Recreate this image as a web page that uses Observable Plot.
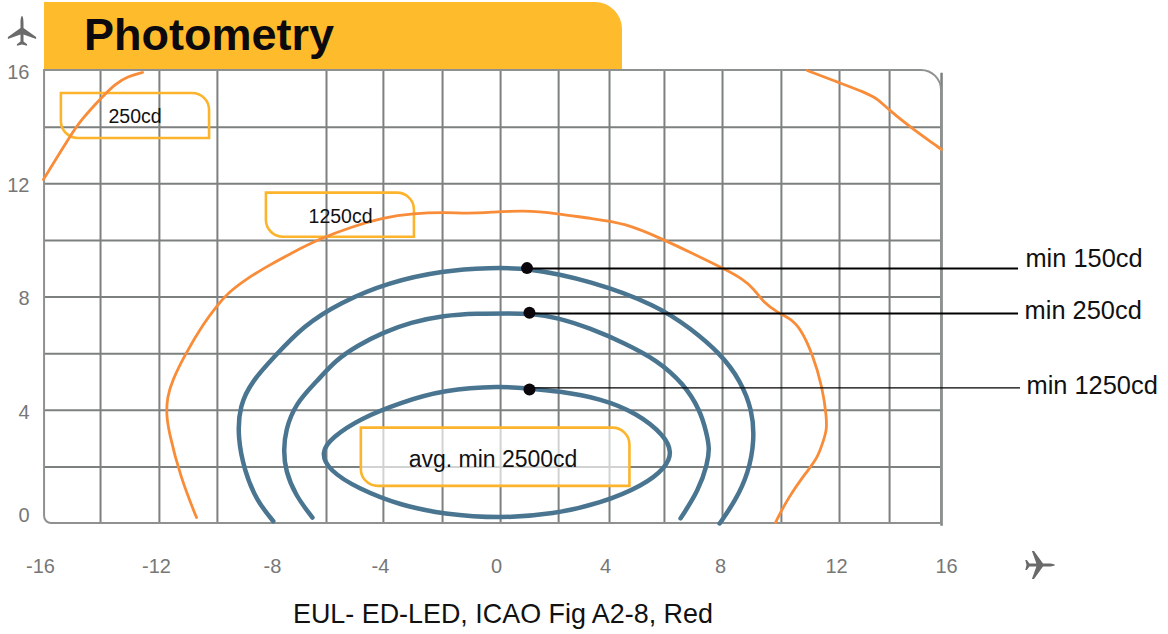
<!DOCTYPE html>
<html>
<head>
<meta charset="utf-8">
<script src="https://cdn.jsdelivr.net/npm/d3@7"></script>
<script src="https://cdn.jsdelivr.net/npm/@observablehq/plot@0.6"></script>
<style>
html,body{margin:0;padding:0;background:#fff;font-family:"Liberation Sans",Arial,sans-serif;}
#page{position:relative;width:1168px;height:634px;overflow:hidden;}
#band{position:absolute;left:44px;top:2px;width:578px;height:67px;background:#FEBB2C;border-top-right-radius:27px;}
#title{position:absolute;left:84px;top:9px;font-size:45px;font-weight:bold;color:#0c0a0e;line-height:52px;}
#chart{position:absolute;left:0;top:0;}
#caption{position:absolute;left:293px;top:598px;font-size:26.9px;line-height:32px;color:#111;white-space:nowrap;}
.plane{position:absolute;width:30px;height:30px;fill:#6a6a6a;}
</style>
</head>
<body>
<div id="page">
  <div id="band"></div>
  <div id="title">Photometry</div>
  <div id="chart"></div>
  <svg class="plane" style="left:7px;top:16px" viewBox="0 0 100 100"><path d="M50 0C53 0 55 10 55 24L55 40L97 70L97 77L55 62L55 85L67 94L67 99L50 95L33 99L33 94L45 85L45 62L3 77L3 70L45 40L45 24C45 10 47 0 50 0Z"/></svg>
  <svg class="plane" style="left:1025px;top:550px;transform:rotate(90deg)" viewBox="0 0 100 100"><path d="M50 0C53 0 55 10 55 24L55 40L97 70L97 77L55 62L55 85L67 94L67 99L50 95L33 99L33 94L45 85L45 62L3 77L3 70L45 40L45 24C45 10 47 0 50 0Z"/></svg>
  <div id="caption">EUL- ED-LED, ICAO Fig A2-8, Red</div>
</div>
<script>
const xTicks = [-16,-12,-8,-4,0,4,8,12,16];
const yTicks = [4,8,12,16];
const gridX = [-13.93,-11.90,-9.90,-6,-3.90,-1.86,0.15,2.28,4.14,6.05,8.07,10.10,12.11,13.93];
const gridY = [2,4,6,8,10,12,14];
const frameX = [-15.86,15.82];

const orange1250 = [[-10.62,0.21],[-11.17,1.62],[-11.59,3.29],[-11.66,3.89],[-11.63,4.45],[-11.46,5.05],[-11,6],[-10.38,7.06],[-9.91,7.70],[-9.52,8.16],[-8.87,8.65],[-8.31,9.01],[-7.33,9.54],[-6.22,10.07],[-5.11,10.46],[-3.90,10.81],[-2.86,10.95],[-1.83,10.99],[-1,10.95],[-0.21,10.99],[0.99,11.06],[2.24,10.95],[3.45,10.77],[4.63,10.63],[6.02,10.03],[6.96,9.57],[8.10,9.01],[8.79,8.62],[9.14,8.30],[9.48,7.81],[9.97,7.45],[10.41,7.24],[10.76,6.89],[11.17,6],[11.52,4.80],[11.66,3.74],[11.66,3.29],[11.55,2.93],[11.34,2.30],[11,1.87],[10.31,0.88],[9.90,0.04]];
const orangeTopLeft = [[-15.90,12.15],[-14.97,13.70],[-14.62,14.23],[-13.93,15.01],[-13.41,15.54],[-13,15.79],[-12.48,15.93]];
const orangeTopRight = [[10.99,16],[12.07,15.58],[13.05,15.22],[13.48,15.01],[13.89,14.62],[14.75,13.95],[15.82,13.21]];
const blue150 = [[-7.97,0.08],[-8.55,0.81],[-8.97,1.87],[-9.20,3.04],[-9.14,4.17],[-8.69,5.05],[-7.96,5.86],[-6.85,6.99],[-5.48,7.81],[-3.76,8.51],[-1.83,8.94],[-0.21,9.03],[1.14,9.03],[3.45,8.58],[5.81,7.70],[6.96,6.89],[8,6],[8.69,5.05],[9.10,3.99],[9.17,2.93],[8.97,1.80],[8.52,0.81],[7.97,0]];
const blue250 = [[-6.52,0.21],[-7.15,0.99],[-7.52,1.87],[-7.59,2.58],[-7.52,3.29],[-7.15,4.24],[-6.33,5.05],[-5.67,5.76],[-4.85,6.29],[-3.90,6.75],[-2.97,7.10],[-1.83,7.35],[-0.66,7.42],[0.51,7.42],[1.21,7.42],[2.24,7.28],[3.45,6.89],[4.63,6.39],[5.81,5.76],[6.71,4.95],[7.30,3.99],[7.51,3.21],[7.62,2.68],[7.55,2.12],[7.24,1.17],[6.61,0.18]];
const blue1250 = [[0.15,4.86],[-1.83,4.72],[-3.31,4.27],[-4.74,3.71],[-5.80,3.04],[-6.22,2.51],[-5.90,1.87],[-4.85,1.24],[-3.31,0.64],[-1.83,0.33],[0.15,0.18],[2.09,0.33],[3.82,0.71],[5.32,1.34],[6.10,1.98],[6.32,2.51],[6.05,3.11],[5.11,3.89],[3.82,4.42],[2.24,4.68],[1.21,4.76]];

const boxNames = ["250cd","1250cd","avg. min 2500cd"];
const boxX1 = [-15.28,-8.21,-4.71];
const boxX2 = [-10.17,-2.83,4.85];
const boxY1 = [15.19,11.67,3.37];
const boxY2 = [13.60,10.11,1.31];
const boxLabelX = [-12.74,-5.48,-0.12];
const boxLabelY = [14.37,10.84,2.26];

const leaderNames = ["min 150cd","min 250cd","min 1250cd"];
const dotX = [1.12,1.21,1.21];
const dotY = [9.02,7.44,4.73];
const leaderEnd = [18.62,18.62,18.69];
const leaderY = [9.01,7.42,4.79];
const leaderLabelX = [18.87,18.84,18.91];
const leaderLabelY = [9.33,7.52,4.87];

const boxes = boxNames.map((name,i)=>({name,x1:boxX1[i],x2:boxX2[i],y1:boxY1[i],y2:boxY2[i],lx:boxLabelX[i],ly:boxLabelY[i],fs:i===2?23:19.5}));
const leaders = leaderNames.map((name,i)=>({name,dx:dotX[i],dy:dotY[i],end:leaderEnd[i],y:leaderY[i],lx:leaderLabelX[i],ly:leaderLabelY[i]}));

const gridColor = "#7c807f", orange = "#F98C38", blue = "#4A7590", amber = "#FDB42D", tick = "#777";
const boxMark = (rows, fill, fo) => Plot.rect(rows,{x1:"x1",x2:"x2",y1:"y1",y2:"y2",fill,fillOpacity:fo,stroke:amber,strokeWidth:2.6,rx2y1:17,rx1y2:17});

const chart = Plot.plot({
  width:1168, height:590, marginLeft:44, marginBottom:67, marginTop:0, marginRight:0,
  style:{fontFamily:"'Liberation Sans',Arial,sans-serif",background:"transparent",overflow:"visible"},
  x:{type:"linear",domain:xTicks,range:[40,156,272,380,496,605,720,836,946]},
  y:{type:"linear",domain:[0,16],range:[523,70]},
  marks:[
    Plot.ruleX(gridX,{y1:0,y2:16,stroke:gridColor,strokeWidth:2}),
    Plot.ruleY(gridY,{x1:frameX[0],x2:frameX[1],stroke:gridColor,strokeWidth:2}),
    Plot.ruleX([frameX[1]],{y1:-0.1,y2:15.9,stroke:gridColor,strokeWidth:2.5}),
    Plot.rect([0],{x1:frameX[0],x2:frameX[1],y1:16,y2:0,stroke:"#8f9191",strokeWidth:2,fill:"none",rx2y1:20,rx1y2:7}),
    boxMark(boxes.slice(0,2),"none"),
    boxMark(boxes.slice(2),"white",0.65),
    Plot.line(orange1250,{curve:"basis",stroke:orange,strokeWidth:2.8}),
    Plot.line(orangeTopLeft,{curve:"basis",stroke:orange,strokeWidth:2.8}),
    Plot.line(orangeTopRight,{curve:"basis",stroke:orange,strokeWidth:2.8}),
    Plot.line(blue150,{curve:"basis",stroke:blue,strokeWidth:4.5}),
    Plot.line(blue250,{curve:"basis",stroke:blue,strokeWidth:4.5}),
    Plot.line(blue1250,{curve:"basis-closed",stroke:blue,strokeWidth:4.5}),
    Plot.ruleY(leaders.slice(0,2),{y:"y",x1:"dx",x2:"end",stroke:"#000",strokeWidth:2}),
    Plot.ruleY(leaders.slice(2),{y:"y",x1:"dx",x2:"end",stroke:"#000",strokeWidth:1.4}),
    Plot.dot(leaders,{x:"dx",y:"dy",r:6,fill:"#0a060c",stroke:"none"}),
    Plot.text(leaders,{x:"lx",y:"ly",text:"name",textAnchor:"start",fontSize:25.4,fill:"#111"}),
    ...boxes.map(b=>Plot.text([b],{x:"lx",y:"ly",text:"name",fontSize:b.fs,fill:"#111"})),
    Plot.axisX({ticks:xTicks,tickSize:0,tickPadding:35,fontSize:20,color:tick,label:null,tickFormat:d=>d}),
    Plot.axisY({ticks:yTicks,tickSize:0,tickPadding:15,fontSize:20,color:tick,label:null,dy:2}),
    Plot.axisY({ticks:[0],tickSize:0,tickPadding:15,fontSize:20,color:tick,label:null,dy:-8})
  ]
});
document.getElementById("chart").appendChild(chart);
</script>
</body>
</html>
